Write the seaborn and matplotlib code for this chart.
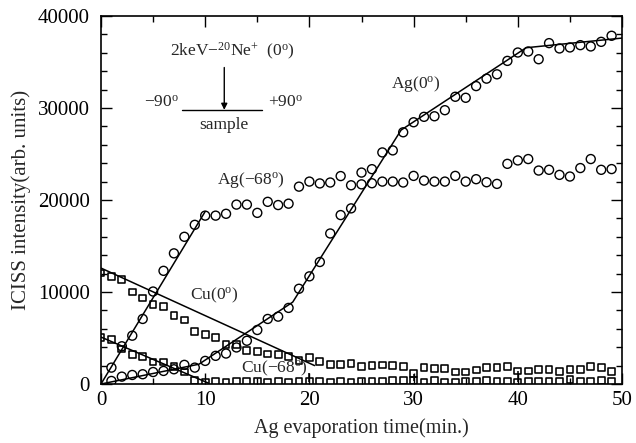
import matplotlib
matplotlib.use("Agg")
import matplotlib.pyplot as plt
import seaborn as sns
from matplotlib.ticker import MultipleLocator

# ---------------- data ----------------
time_ag = list(range(1, 50))
ag_0 = [330, 800, 980, 1060, 1300, 1420, 1600, 2080, 1780, 2510,
        3060, 3310, 3970, 4700, 5870, 7070, 7320, 8270, 10350, 11700,
        13260, 16360, 18360, 19090, 22980, 23350, 25170, 25390, 27360, 28450,
        29040, 29100, 29760, 31220, 31110, 32380, 33190, 33660, 35120, 36030,
        36140, 35300, 37050, 36470, 36580, 36830, 36690, 37190, 37850]
ag_m68 = [1780, 4100, 5250, 7070, 10050, 12300, 14200, 16000, 17300, 18300,
          18300, 18500, 19500, 19500, 18600, 19800, 19450, 19600, 21450, 22000,
          21800, 21900, 22600, 21600, 21700, 21820, 22000, 22000, 21900, 22620,
          22110, 22000, 22000, 22620, 22000, 22260, 21930, 21750, 23930, 24300,
          24450, 23200, 23280, 22730, 22550, 23470, 24450, 23280, 23360]

time_cu = list(range(0, 50))
cu_0 = [12060, 11700, 11330, 10000, 9350, 8650, 8430, 7430, 6960, 5720,
        5360, 5060, 4260, 4260, 3610, 3530, 3250, 3170, 2950, 2590,
        2870, 2440, 2150, 2080, 2220, 1930, 1970, 2060, 1970, 1890,
        1130, 1780, 1670, 1710, 1310, 1310, 1530, 1780, 1780, 1890,
        1420, 1420, 1600, 1600, 1350, 1600, 1600, 1890, 1780, 1350]
cu_m68 = [5060, 4800, 3800, 3200, 3000, 2400, 2400, 1900, 1300, 400,
          150, 250, 200, 250, 250, 300, 200, 250, 150, 250,
          250, 250, 200, 250, 150, 300, 250, 300, 350, 350,
          350, 200, 350, 150, 200, 300, 300, 350, 300, 250,
          200, 300, 250, 300, 250, 450, 250, 250, 350, 300]

# error bars (from the Cu(-68) point up to these tops)
err_x = [20, 30, 40]
err_top = [1200, 1130, 1420]

# fitted straight-line segments
fit_ag0_x = [0, 9.4, 18.4, 28.8, 40.8, 50]
fit_ag0_y = [0, 2150, 8900, 27600, 36550, 37600]
fit_agm68_x = [0, 10.0]
fit_agm68_y = [0, 18750]
fit_cu0_x = [0, 20.5]
fit_cu0_y = [12600, 2000]
fit_cum68_x = [0, 10.3]
fit_cum68_y = [5100, 100]

x_ticks = [0, 10, 20, 30, 40, 50]
y_ticks = [0, 10000, 20000, 30000, 40000]

# ---------------- style ----------------
sns.set_theme(style="ticks")
plt.rcParams["font.family"] = ["Liberation Serif", "DejaVu Serif"]
plt.rcParams["mathtext.fontset"] = "custom"
plt.rcParams["mathtext.rm"] = "Liberation Serif"
plt.rcParams["mathtext.it"] = "Liberation Serif:italic"

fig = plt.figure(figsize=(6.36, 4.43), dpi=100)
ax = fig.add_axes([0.1588, 0.1332, 0.8192, 0.8307])


def open_scatter(x, y, marker, s, lw):
    sns.scatterplot(x=x, y=y, ax=ax, marker=marker, s=s, color="black",
                    linewidth=lw, zorder=3, legend=False)
    coll = ax.collections[-1]
    coll.set_facecolor("none")
    coll.set_edgecolor("black")
    coll.set_linewidth(lw)


open_scatter(time_ag, ag_0, "o", 42, 1.0)
open_scatter(time_ag, ag_m68, "o", 42, 1.0)
open_scatter(time_cu, cu_0, "s", 24, 1.15)
open_scatter(time_cu, cu_m68, "s", 24, 1.15)

for fx, fy in [(fit_ag0_x, fit_ag0_y), (fit_agm68_x, fit_agm68_y),
               (fit_cu0_x, fit_cu0_y), (fit_cum68_x, fit_cum68_y)]:
    sns.lineplot(x=fx, y=fy, ax=ax, color="black", linewidth=1.1, zorder=2)

err_base = [cu_m68[time_cu.index(t)] for t in err_x]
ax.vlines(err_x, err_base, err_top, color="black", linewidth=1.1, zorder=2)

# ---------------- axes ----------------
ax.set_xlim(0, 50)
ax.set_ylim(0, 40000)
ax.set_xticks(x_ticks)
ax.set_yticks(y_ticks)
ax.xaxis.set_minor_locator(MultipleLocator(5))
ax.yaxis.set_minor_locator(MultipleLocator(2000))
ax.tick_params(which="both", direction="in", top=True, right=True,
               colors="black", width=1.0, labelsize=15)
ax.tick_params(which="major", length=8)
ax.tick_params(which="minor", length=4.5)
ax.tick_params(axis="y", pad=8)
ax.tick_params(axis="x", pad=5)
for sp in ax.spines.values():
    sp.set_linewidth(1.2)
    sp.set_color("black")

ax.set_xlabel("Ag evaporation time(min.)", fontsize=14.5, labelpad=6)
ax.set_ylabel("ICISS intensity(arb. units)", fontsize=15, labelpad=5)

# ---------------- annotations ----------------
fs = 12.5
ax.text(12.6, 36150, r"2keV$-^{\mathrm{20}}$Ne$^{+}$  (0$^{\mathrm{o}}$)",
        ha="center", va="center", fontsize=fs)
ax.annotate("", xy=(11.83, 29800), xytext=(11.83, 34400),
            arrowprops=dict(arrowstyle="-|>", color="black", lw=1.0,
                            mutation_scale=9, shrinkA=0, shrinkB=0))
ax.plot([7.74, 15.42], [29730, 29730], color="black", linewidth=1.0)
ax.text(7.5, 30100, r"$-$90$^{\mathrm{o}}$", ha="right", va="baseline", fontsize=fs)
ax.text(16.0, 30100, r"+90$^{\mathrm{o}}$", ha="left", va="baseline", fontsize=fs)
ax.text(11.8, 28150, "sample", ha="center", va="center", fontsize=fs)

ax.text(30.2, 32600, r"Ag(0$^{\mathrm{o}}$)", ha="center", va="center", fontsize=fs)
ax.text(14.35, 22200, r"Ag($-$68$^{\mathrm{o}}$)", ha="center", va="center", fontsize=fs)
ax.text(10.85, 9650, r"Cu(0$^{\mathrm{o}}$)", ha="center", va="center", fontsize=fs)
ax.text(16.6, 1650, r"Cu($-$68$^{\mathrm{o}}$)", ha="center", va="center", fontsize=fs)

fig.savefig("out.png", dpi=100)
